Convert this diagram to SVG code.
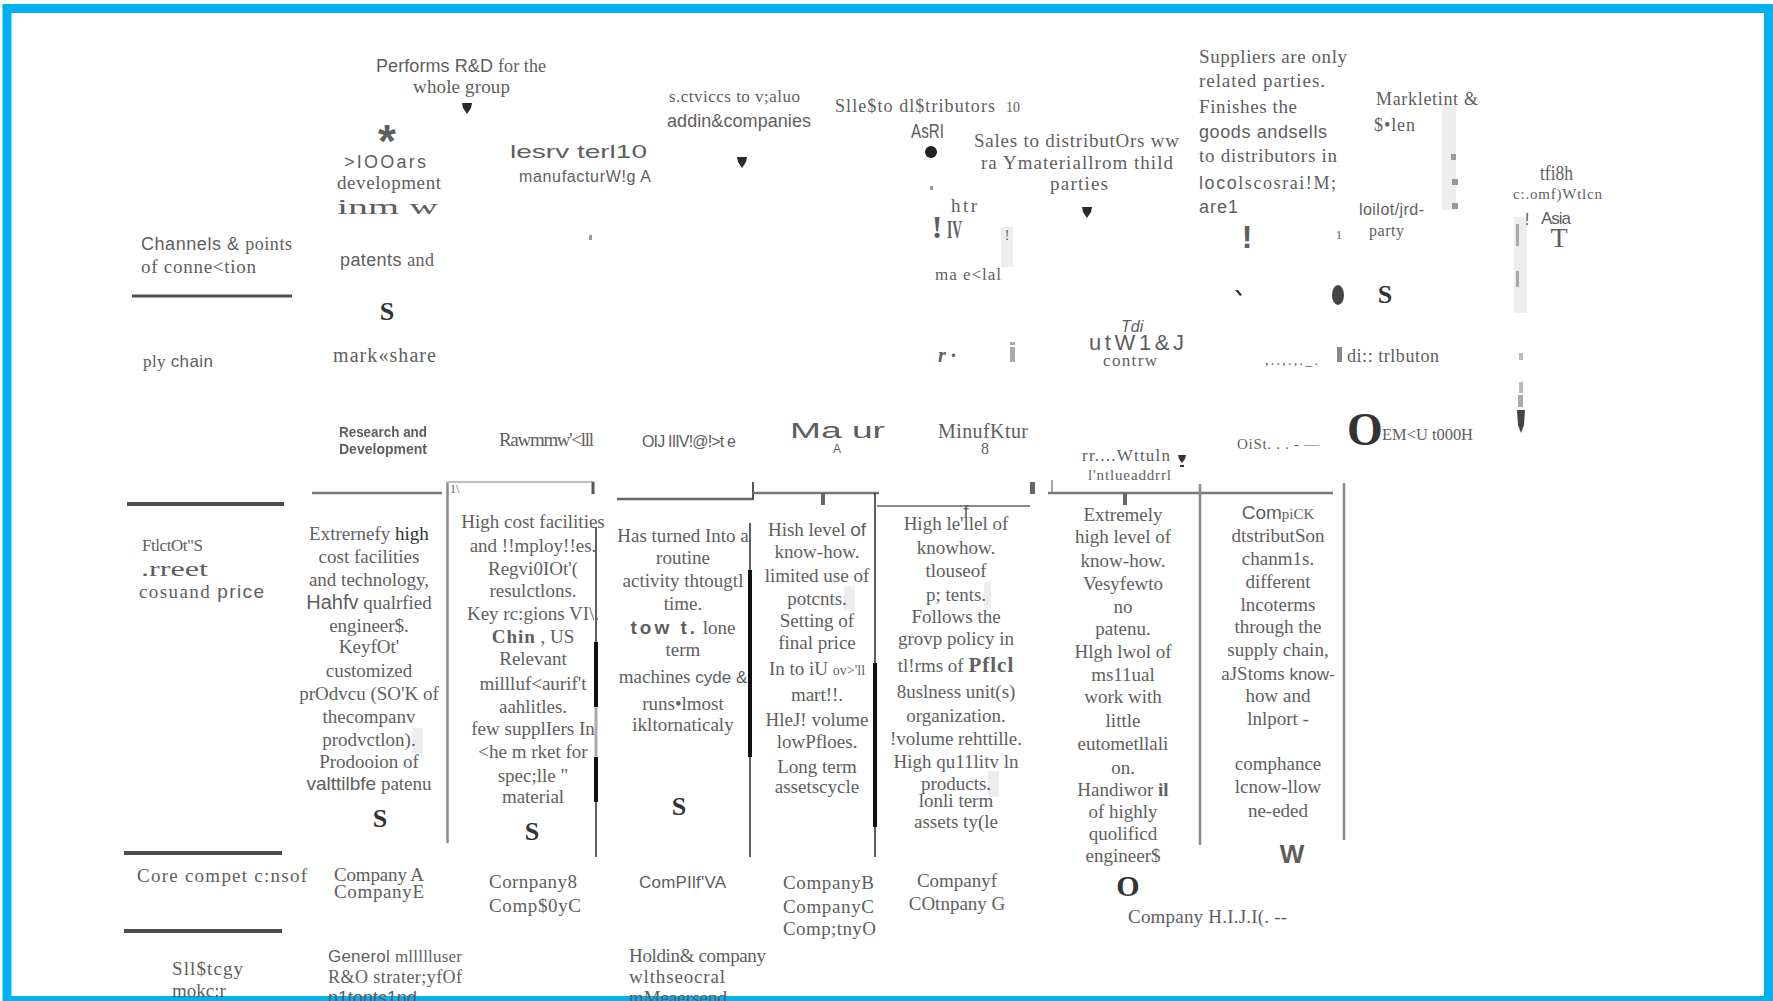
<svg xmlns="http://www.w3.org/2000/svg" width="1773" height="1001" viewBox="0 0 1773 1001">
<defs>
<style>
 .sf{font-family:"Liberation Serif","Times New Roman",serif;fill:#5e5e5e}
 .ss{font-family:"Liberation Sans",Arial,sans-serif;fill:#5e5e5e}
 .bx{font-family:"Liberation Serif","Times New Roman",serif;font-size:19px;fill:#606060;text-anchor:middle}
 .dk{fill:#333}
 .big{font-weight:bold;fill:#333}
 .rule{stroke:#4d4d4d;stroke-width:4}
 .edge{stroke:#8a8a8a;stroke-width:2.5;fill:none}
 .pale{stroke:#bdbdbd;stroke-width:2;fill:none}
 .thin{stroke:#2a2a2a;stroke-width:1.5}
 .thick{stroke:#111;stroke-width:4}
 .shade{fill:#ededed}
 .mark{fill:#9a9a9a}
</style>
<path id="tip" d="M-5,0 L5,0 L4,5 L0,11 L-4,5 Z" fill="#2a2a2a"/>
<filter id="soft" x="-10%" y="-30%" width="120%" height="160%"><feGaussianBlur stdDeviation="0.7"/></filter>
</defs>

<rect x="0" y="0" width="1773" height="1001" fill="#fff"/>
<rect x="7" y="8.5" width="1761.5" height="992" fill="none" stroke="#00b0f0" stroke-width="9"/>

<!-- table rules and column edges -->
<g id="rules">
  <line class="rule" x1="132" y1="296" x2="292" y2="296" style="stroke-width:3"/>
  <line class="rule" x1="127" y1="504" x2="284" y2="504"/>
  <line class="rule" x1="124" y1="853" x2="282" y2="853"/>
  <line class="rule" x1="124" y1="931" x2="282" y2="931"/>
  <line x1="312" y1="493" x2="442" y2="493" stroke="#777" stroke-width="2.5"/>
  <line class="edge" x1="447.5" y1="482" x2="447.5" y2="843"/>
  <line class="pale" x1="447" y1="482" x2="594" y2="482"/>
  <line x1="593" y1="482" x2="593" y2="494" stroke="#555" stroke-width="3"/>
  <line class="thin" x1="596" y1="527" x2="596" y2="857"/>
  <line class="thick" x1="596" y1="642" x2="596" y2="707"/>
  <line x1="596" y1="707" x2="596" y2="757" stroke="#aaa" stroke-width="3"/>
  <line class="thick" x1="596" y1="757" x2="596" y2="802"/>
  <line x1="617" y1="499" x2="753" y2="499" stroke="#666" stroke-width="2.5"/>
  <line class="thin" x1="750" y1="523" x2="750" y2="857"/>
  <line class="thick" x1="750" y1="570" x2="750" y2="757"/>
  <line x1="753" y1="482" x2="753" y2="500" stroke="#555" stroke-width="2"/>
  <line x1="753" y1="493" x2="879" y2="493" stroke="#777" stroke-width="2.5"/>
  <line x1="823" y1="493" x2="823" y2="505" stroke="#666" stroke-width="4"/>
  <line class="thin" x1="875" y1="493" x2="875" y2="857"/>
  <line class="thick" x1="875" y1="663" x2="875" y2="827"/>
  <line x1="877" y1="506" x2="1030" y2="506" stroke="#8a8a8a" stroke-width="2"/>
  <rect x="1030" y="482" width="5" height="12" fill="#666"/>
  <line x1="1052" y1="480" x2="1052" y2="492" stroke="#888" stroke-width="1.5"/>
  <line x1="1048" y1="493" x2="1333" y2="493" stroke="#777" stroke-width="2.5"/>
  <line x1="1125" y1="493" x2="1125" y2="505" stroke="#666" stroke-width="4"/>
  <line class="edge" x1="1200" y1="484" x2="1200" y2="845"/>
  <line class="edge" x1="1344" y1="483" x2="1344" y2="840"/>
</g>

<!-- downward arrow tips -->
<g id="connectors">
  <use href="#tip" x="467" y="103"/>
  <use href="#tip" x="742" y="157"/>
  <use href="#tip" x="1087" y="207"/>
  <rect x="1519" y="353" width="4" height="7" fill="#bbb"/>
  <rect x="1519" y="382" width="4" height="11" fill="#bbb"/>
  <rect x="1518" y="395" width="5" height="12" fill="#aaa"/>
  <path d="M1517,410 L1525,410 L1524,425 L1521,433 L1518,425 Z" fill="#444"/>
</g>

<!-- row labels -->
<g id="row-labels">
  <text class="ss" x="141" y="250" font-size="18" textLength="151">Channels &amp; <tspan class="sf">points</tspan></text>
  <text class="sf" x="141" y="273" font-size="19" textLength="115">of conne&lt;tion</text>
  <text class="sf" x="143" y="367" font-size="17" textLength="70">ply <tspan class="ss">chain</tspan></text>
  <text class="sf" x="142" y="551" font-size="17" textLength="61">FtlctOt"S</text>
  <text class="sf" x="141" y="576" font-size="20" textLength="67" lengthAdjust="spacingAndGlyphs">.rreet</text>
  <text class="sf" x="139" y="598" font-size="19" textLength="125">cosuand <tspan class="ss">price</tspan></text>
  <text class="sf" x="137" y="882" font-size="19" textLength="170">Core compet c:nsof</text>
  <text class="sf" x="172" y="975" font-size="19" textLength="71">Sll$tcgy</text>
  <text class="sf" x="172" y="997" font-size="19">mokc:r</text>
</g>

<!-- research and development column -->
<g id="node-rd">
  <text class="ss" x="376" y="72" font-size="18" textLength="170">Performs R&amp;D <tspan class="sf">for the</tspan></text>
  <text class="sf" x="413" y="93" font-size="19" textLength="97">whole group</text>
  <text class="ss" x="387" y="157" font-size="46" font-weight="bold" fill="#1a1a1a" text-anchor="middle">*</text>
  <text class="ss" x="344" y="168" font-size="18" textLength="82">&gt;IOOars</text>
  <text class="sf" x="337" y="189" font-size="19" textLength="104">development</text>
  <text class="sf" x="337" y="214" font-size="22" textLength="101" lengthAdjust="spacingAndGlyphs">inm  w</text>
  <text class="ss" x="340" y="266" font-size="18" textLength="94">patents <tspan class="sf">and</tspan></text>
  <text class="sf big" x="387" y="320" font-size="26" text-anchor="middle">S</text>
  <text class="sf" x="333" y="362" font-size="20" textLength="103">mark«share</text>
  <g filter="url(#soft)">
    <text class="ss" x="339" y="437" font-size="15" font-weight="bold" fill="#2e2e2e" textLength="88" lengthAdjust="spacingAndGlyphs">Research and</text>
    <text class="ss" x="339" y="454" font-size="15" font-weight="bold" fill="#2e2e2e" textLength="88" lengthAdjust="spacingAndGlyphs">Development</text>
  </g>
  <text class="bx" x="369" y="540">Extrernefy <tspan class="dk">high</tspan></text>
  <text class="bx" x="369" y="563">cost facilities</text>
  <text class="bx" x="369" y="586">and technology,</text>
  <text class="bx" x="369" y="609"><tspan class="ss" font-size="20">Hahfv</tspan> qualrfied</text>
  <text class="bx" x="369" y="632">engineer$.</text>
  <text class="bx ss" x="369" y="653" font-size="17">KeyfOt'</text>
  <text class="bx" x="369" y="677">customized</text>
  <text class="bx" x="369" y="700">prOdvcu (SO'K of</text>
  <text class="bx" x="369" y="723">thecompanv</text>
  <rect class="shade" x="412" y="728" width="11" height="25"/>
  <text class="bx" x="369" y="746">prodvctlon).</text>
  <text class="bx" x="369" y="768">Prodooion of</text>
  <text class="bx" x="369" y="790"><tspan class="ss">valttilbfe</tspan> patenu</text>
  <text class="sf big" x="380" y="827" font-size="26" text-anchor="middle">S</text>
  <text class="sf" x="334" y="881" font-size="19" textLength="90">Company A</text>
  <text class="sf" x="334" y="898" font-size="19" textLength="90">CompanyE</text>
  <text class="ss" x="328" y="962" font-size="17" textLength="134">Generol <tspan class="sf">mllllluser</tspan></text>
  <text class="sf" x="328" y="983" font-size="18" textLength="134">R&amp;O strater;yfOf</text>
  <text class="ss" x="328" y="1004" font-size="18">p1tonts1nd</text>
</g>

<!-- raw material column -->
<g id="node-raw">
  <text class="ss" x="510" y="158" font-size="19" textLength="137" lengthAdjust="spacingAndGlyphs">lesrv  terl10</text>
  <text class="ss" x="519" y="182" font-size="16" textLength="132">manufacturW!g A</text>
  <rect class="mark" x="589" y="235" width="3" height="5"/>
  <text class="sf" x="499" y="446" font-size="19" textLength="95">Rawmmw'&lt;lll</text>
  <text class="sf" x="450" y="493" font-size="12" fill="#888">1\</text>
  <text class="bx" x="533" y="528">High cost facilities</text>
  <text class="bx" x="533" y="552">and !!mploy!!es.</text>
  <text class="bx" x="533" y="575">Regvi0IOt'(</text>
  <text class="bx" x="533" y="597">resulctlons.</text>
  <text class="bx" x="533" y="620">Key rc:gions VI\.</text>
  <text class="bx" x="533" y="643"><tspan font-weight="bold" letter-spacing="1">Chin</tspan> , US</text>
  <text class="bx" x="533" y="665">Relevant</text>
  <text class="bx" x="533" y="690">millluf&lt;aurif't</text>
  <text class="bx" x="533" y="713">aahlitles.</text>
  <text class="bx" x="533" y="735">few supplIers In</text>
  <text class="bx" x="533" y="758">&lt;he m rket for</text>
  <text class="bx" x="533" y="782" font-size="22">spec;lle  "</text>
  <text class="bx" x="533" y="803">material</text>
  <text class="sf big" x="532" y="840" font-size="26" text-anchor="middle">S</text>
  <text class="sf" x="489" y="888" font-size="19" textLength="88">Cornpany8</text>
  <text class="sf" x="489" y="912" font-size="19" textLength="92">Comp$0yC</text>
</g>

<!-- services column -->
<g id="node-services">
  <text class="sf" x="669" y="102" font-size="17" textLength="131">s.ctviccs to v;aluo</text>
  <text class="ss" x="667" y="127" font-size="18" textLength="144">addin&amp;companies</text>
  <text class="ss" x="642" y="447" font-size="16" textLength="94">OIJ IIIV!@!&gt;t  e</text>
  <text class="bx" x="683" y="542">Has turned Into a</text>
  <text class="bx" x="683" y="564">routine</text>
  <text class="bx" x="683" y="587">activity thtougtl</text>
  <text class="bx" x="683" y="610">time.</text>
  <text class="bx" x="683" y="634"><tspan class="ss" font-weight="bold" letter-spacing="3">tow  t.</tspan> lone</text>
  <text class="bx" x="683" y="656">term</text>
  <text class="bx" x="683" y="683">machines <tspan class="ss" font-size="17">cyde &amp;</tspan></text>
  <text class="bx" x="683" y="710">runs•lmost</text>
  <text class="bx" x="683" y="731">ikltornaticaly</text>
  <text class="sf big" x="679" y="815" font-size="26" text-anchor="middle">S</text>
  <text class="ss" x="639" y="888" font-size="17" textLength="87">ComPIlf'VA</text>
  <text class="sf" x="629" y="962" font-size="19" textLength="137">Holdin&amp; company</text>
  <text class="sf" x="629" y="983" font-size="19" textLength="96">wlthseocral</text>
  <text class="sf" x="629" y="1004" font-size="19">mMeaersend</text>
</g>

<!-- manufacturer A column -->
<g id="node-mfg-a">
  <text class="sf" x="835" y="112" font-size="18" textLength="160">Slle$to dl$tributors</text>
  <text class="sf" x="1006" y="112" font-size="14">10</text>
  <text class="ss" x="911" y="138" font-size="20" textLength="33" lengthAdjust="spacingAndGlyphs">AsRI</text>
  <circle cx="931" cy="152" r="6" fill="#222"/>
  <rect class="mark" x="930" y="186" width="3" height="4"/>
  <text class="sf" x="951" y="212" font-size="19" textLength="26">htr</text>
  <text class="sf" x="937" y="238" font-size="32" font-weight="bold" fill="#777" text-anchor="middle">!</text>
  <text class="sf" x="947" y="238" font-size="26" font-weight="bold" fill="#444" textLength="15" lengthAdjust="spacingAndGlyphs">IV</text>
  <rect class="shade" x="1001" y="227" width="12" height="40"/>
  <text class="sf" x="1007" y="240" font-size="14" fill="#999" text-anchor="middle">!</text>
  <text class="sf" x="935" y="280" font-size="17" textLength="66">ma e&lt;lal</text>
  <text class="ss" x="790" y="438" font-size="22" fill="#555" textLength="95" lengthAdjust="spacingAndGlyphs">Ma  ur</text>
  <text class="ss" x="837" y="453" font-size="12" text-anchor="middle">A</text>
  <text class="bx" x="817" y="536">Hish level <tspan class="ss">of</tspan></text>
  <text class="bx" x="817" y="558">know-how.</text>
  <text class="bx" x="817" y="582">limited use of</text>
  <rect class="shade" x="844" y="586" width="11" height="25"/>
  <text class="bx" x="817" y="605">potcnts.</text>
  <text class="bx" x="817" y="627">Setting of</text>
  <text class="bx" x="817" y="649">final price</text>
  <text class="bx" x="817" y="675">In to iU <tspan font-size="14">ov&gt;'ll</tspan></text>
  <text class="bx" x="817" y="701">mart!!.</text>
  <text class="bx" x="817" y="726">HleJ! volume</text>
  <text class="bx" x="817" y="748">lowPfloes.</text>
  <text class="bx" x="817" y="773">Long term</text>
  <text class="bx" x="817" y="793">assetscycle</text>
  <text class="sf" x="783" y="889" font-size="19" textLength="91">CompanyB</text>
  <text class="sf" x="783" y="913" font-size="19" textLength="91">CompanyC</text>
  <text class="sf" x="783" y="935" font-size="19" textLength="93">Comp;tnyO</text>
</g>

<!-- manufacturer B column -->
<g id="node-mfg-b">
  <text class="sf" x="974" y="147" font-size="19" textLength="205">Sales to distributOrs ww</text>
  <text class="sf" x="981" y="169" font-size="19" textLength="192">ra Ymateriallrom  thild</text>
  <text class="sf" x="1050" y="190" font-size="19" textLength="58">parties</text>
  <text class="sf" x="938" y="362" font-size="20" font-weight="bold" font-style="italic" fill="#555">r ·</text>
  <rect x="1010" y="347" width="5" height="15" fill="#aaa"/>
  <rect x="1010" y="342" width="5" height="3" fill="#aaa"/>
  <text class="sf" x="938" y="438" font-size="20" textLength="90">MinufKtur</text>
  <text class="sf" x="985" y="454" font-size="16" text-anchor="middle">8</text>
  <text class="ss" x="966" y="518" font-size="18" fill="#555" text-anchor="middle">f</text>
  <text class="bx" x="956" y="530">High  le'llel of</text>
  <text class="bx ss" x="956" y="554" font-size="18">knowhow.</text>
  <text class="bx" x="956" y="577">tlouseof</text>
  <rect class="shade" x="984" y="582" width="7" height="26"/>
  <text class="bx" x="956" y="601">p; tents.</text>
  <text class="bx ss" x="956" y="623" font-size="18">Follows the</text>
  <text class="bx ss" x="956" y="645" font-size="17">grovp policy  in</text>
  <text class="bx" x="956" y="672">tl!rms of <tspan font-weight="bold" font-size="21" letter-spacing="1">Pflcl</tspan></text>
  <text class="bx" x="956" y="698">8uslness unit(s)</text>
  <text class="bx" x="956" y="722">organization.</text>
  <text class="bx" x="956" y="745">!volume rehttille.</text>
  <rect class="shade" x="988" y="771" width="11" height="26"/>
  <text class="bx" x="956" y="768">High  qu11litv ln</text>
  <text class="bx" x="956" y="790">products.</text>
  <text class="bx" x="956" y="807">lonli  term</text>
  <text class="bx" x="956" y="828">assets  ty(le</text>
  <text class="bx" x="957" y="887">Companyf</text>
  <text class="bx" x="957" y="910">COtnpany G</text>
</g>

<!-- manufacturer C column -->
<g id="node-mfg-c">
  <text class="ss" x="1121" y="332" font-size="16" font-style="italic" fill="#777">Tdi</text>
  <text class="ss" x="1089" y="350" font-size="22" textLength="95">utW1&amp;J</text>
  <text class="sf" x="1103" y="366" font-size="17" textLength="54">contrw</text>
  <text class="sf" x="1082" y="461" font-size="17" textLength="88">rr....Wttuln</text>
  <path d="M1178,455 L1186,455 L1185,459 L1182,463 L1179,459 Z M1180,465 h4 v2 h-4 Z" fill="#333"/>
  <text class="sf" x="1088" y="480" font-size="15" textLength="83">l'ntlueaddrrl</text>
  <text class="bx" x="1123" y="521">Extremely</text>
  <text class="bx" x="1123" y="543">high level of</text>
  <text class="bx ss" x="1123" y="567" font-size="17">know-how.</text>
  <text class="bx" x="1123" y="590">Vesyfewto</text>
  <text class="bx" x="1123" y="613">no</text>
  <text class="bx" x="1123" y="635">patenu.</text>
  <text class="bx" x="1123" y="658">Hlgh lwol of</text>
  <text class="bx" x="1123" y="681">ms11ual</text>
  <text class="bx ss" x="1123" y="703" font-size="17">work  with</text>
  <text class="bx" x="1123" y="727">little</text>
  <text class="bx" x="1123" y="750">eutometllali</text>
  <text class="bx" x="1123" y="774">on.</text>
  <text class="bx ss" x="1123" y="796" font-size="17">Handiwor <tspan font-weight="bold">il</tspan></text>
  <text class="bx" x="1123" y="818">of highly</text>
  <text class="bx" x="1123" y="840">quolificd</text>
  <text class="bx" x="1123" y="862">engineer$</text>
  <text class="sf big" x="1128" y="896" font-size="30" text-anchor="middle">O</text>
  <text class="sf" x="1128" y="923" font-size="19" textLength="159">Company H.I.J.I(. --</text>
</g>

<!-- suppliers and distribution column -->
<g id="node-distribution">
  <text class="sf" x="1199" y="63" font-size="19" textLength="148">Suppliers are only</text>
  <text class="sf" x="1199" y="87" font-size="19" textLength="126">related  parties.</text>
  <text class="sf" x="1199" y="113" font-size="19" textLength="98">Finishes the</text>
  <text class="ss" x="1199" y="138" font-size="18" textLength="128">goods andsells</text>
  <text class="sf" x="1199" y="162" font-size="19" textLength="138">to distributors  in</text>
  <text class="ss" x="1199" y="189" font-size="18" textLength="137">loco<tspan class="sf">lscosrai!M;</tspan></text>
  <text class="ss" x="1199" y="213" font-size="18" textLength="39">are1</text>
  <text class="ss" x="1247" y="248" font-size="32" font-weight="bold" fill="#111" text-anchor="middle">!</text>
  <path d="M1235,290 l3,0 l4,5 l-2,1 Z" fill="#333"/>
  <text class="sf" x="1265" y="365" font-size="14" textLength="53">,..,.,._.</text>
  <text class="sf" x="1237" y="449" font-size="15" fill="#999" textLength="82">OiSt. . .  -  —</text>
  <text class="bx" x="1278" y="519"><tspan class="ss" font-size="19">Com</tspan><tspan font-size="15">piCK</tspan></text>
  <text class="bx" x="1278" y="542">dtstributSon</text>
  <text class="bx" x="1278" y="565">chanm1s.</text>
  <text class="bx" x="1278" y="588">different</text>
  <text class="bx" x="1278" y="611">lncoterms</text>
  <text class="bx" x="1278" y="633">through  the</text>
  <text class="bx" x="1278" y="656">supply chain,</text>
  <text class="bx" x="1278" y="680">aJStoms <tspan class="ss" font-size="17">know-</tspan></text>
  <text class="bx" x="1278" y="702">how and</text>
  <text class="bx" x="1278" y="725">lnlport -</text>
  <text class="bx" x="1278" y="770">comphance</text>
  <text class="bx" x="1278" y="793">lcnow-llow</text>
  <text class="bx" x="1278" y="817">ne-eded</text>
  <text class="ss" x="1292" y="863" font-size="26" font-weight="bold" fill="#333" text-anchor="middle">W</text>
</g>

<!-- marketing and sales column -->
<g id="node-marketing">
  <text class="sf" x="1376" y="105" font-size="18" textLength="102">Markletint  &amp;</text>
  <text class="sf" x="1374" y="131" font-size="18" textLength="41">$•len</text>
  <rect class="shade" x="1442" y="105" width="14" height="105"/>
  <rect class="mark" x="1451" y="154" width="5" height="6"/>
  <rect class="mark" x="1452" y="179" width="6" height="6"/>
  <rect class="mark" x="1452" y="203" width="6" height="6"/>
  <text class="ss" x="1359" y="215" font-size="16" textLength="65">loilot/jrd-</text>
  <text class="sf" x="1336" y="239" font-size="12">1</text>
  <text class="sf" x="1369" y="236" font-size="16" textLength="35">party</text>
  <ellipse cx="1338" cy="295" rx="6" ry="10" fill="#444"/>
  <text class="sf big" x="1385" y="303" font-size="26" text-anchor="middle">S</text>
  <rect x="1337" y="347" width="5" height="15" fill="#888"/>
  <text class="sf" x="1347" y="362" font-size="18" textLength="92">di:: trlbuton</text>
  <text class="sf big" x="1365" y="445" font-size="46" text-anchor="middle">O</text>
  <text class="sf" x="1382" y="440" font-size="17" textLength="91" lengthAdjust="spacingAndGlyphs">EM&lt;U  t000H</text>
</g>

<!-- end customer column -->
<g id="node-customer">
  <text class="sf" x="1540" y="180" font-size="20" textLength="33" lengthAdjust="spacingAndGlyphs">tfi8h</text>
  <text class="sf" x="1513" y="199" font-size="15" textLength="89">c:.omf)Wtlcn</text>
  <rect class="shade" x="1514" y="217" width="13" height="96"/>
  <rect x="1516" y="224" width="3" height="22" fill="#aaa"/>
  <rect x="1516" y="271" width="3" height="16" fill="#aaa"/>
  <text class="ss" x="1527" y="225" font-size="17" fill="#666" text-anchor="middle">!</text>
  <text class="ss" x="1541" y="224" font-size="17" textLength="30">Asia</text>
  <text class="sf" x="1559" y="247" font-size="28" fill="#333" text-anchor="middle">T</text>
</g>
</svg>
